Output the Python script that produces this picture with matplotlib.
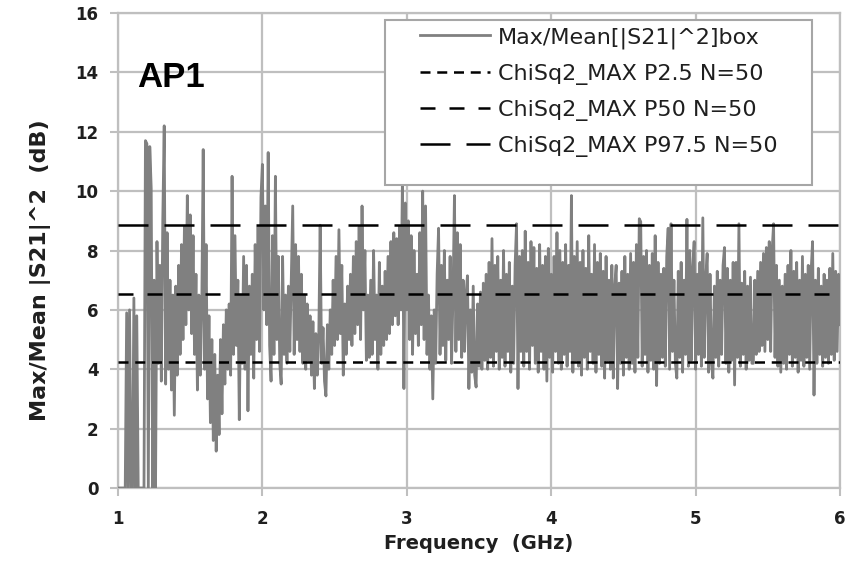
import numpy as np
import matplotlib
matplotlib.use('Agg')
import matplotlib.pyplot as plt
from matplotlib.patches import Rectangle

# Max/Mean of |S21|^2 over the frequency box, in dB (0.01 GHz steps from 1 to 6 GHz)
ratio_db = [
    0, 0, 0, 0, 0, 0, 5.9, 0, 6.0, 0, 0, 6.4, 0, 5.8, 0, 0, 0, 0, 0, 11.7,
    11.6, 0, 11.5, 10.1, 0, 7.0, 0, 8.3, 4.2, 7.5, 3.6, 9.0, 12.2, 3.5, 8.6, 4.0, 7.0, 3.3, 6.5, 2.45,
    6.8, 3.8, 7.5, 4.5, 8.2, 5.0, 8.8, 5.5, 9.85, 6.0, 9.2, 5.2, 8.5, 4.5, 7.2, 3.3, 6.5, 3.8, 6.0, 11.4,
    4.0, 8.2, 3.0, 5.8, 2.2, 5.0, 1.6, 4.5, 1.24, 3.8, 1.8, 5.0, 2.5, 5.5, 3.5, 6.0, 4.0, 6.2, 3.8, 10.5,
    4.5, 8.5, 4.8, 7.0, 2.3, 6.5, 4.2, 7.8, 4.0, 7.5, 2.6, 6.8, 4.5, 7.2, 3.7, 8.2, 5.0, 8.8, 4.6, 9.8,
    10.9, 6.0, 9.5, 5.5, 11.3, 4.8, 3.6, 8.5, 4.5, 10.5, 5.0, 7.8, 4.2, 3.5, 7.8, 4.5, 6.5, 4.2, 6.8, 4.6,
    7.0, 9.5, 4.5, 8.2, 5.0, 7.8, 4.6, 7.2, 4.2, 6.5, 4.0, 6.2, 4.3, 5.8, 3.8, 5.6, 3.35, 5.2, 3.8, 5.0,
    8.85, 4.2, 5.4, 3.6, 3.1, 5.5, 4.0, 6.0, 4.5, 7.0, 4.8, 7.8, 5.0, 8.7, 5.2, 7.5, 3.8, 6.2, 4.5, 6.8,
    5.0, 7.2, 4.8, 7.8, 5.2, 8.3, 5.5, 8.8, 5.0, 9.5, 6.0, 8.0, 4.3, 6.5, 4.4, 7.0, 4.5, 8.0, 5.0, 6.5,
    4.0, 7.6, 4.5, 6.8, 4.8, 7.3, 5.0, 7.8, 5.2, 8.3, 5.5, 8.6, 5.8, 8.4, 5.5, 8.8, 6.0, 10.5, 3.35, 9.6,
    6.0, 9.0, 5.0, 8.5, 4.5, 8.0, 5.2, 7.2, 4.8, 8.6, 5.5, 10.0, 5.0, 9.5, 4.5, 6.5, 4.0, 5.8, 3.0, 6.0,
    4.2, 7.2, 8.75, 4.5, 7.5, 4.8, 8.0, 4.3, 7.0, 5.0, 7.8, 4.2, 6.5, 9.85, 4.6, 8.6, 5.0, 8.2, 4.4, 7.0,
    4.6, 6.5, 7.15, 3.35, 6.0, 3.9, 6.8, 3.8, 3.4, 6.2, 4.1, 6.6, 4.0, 6.9, 4.3, 7.2, 4.0, 7.6, 4.4, 8.4,
    4.1, 7.5, 4.6, 7.8, 4.0, 7.0, 4.4, 8.0, 4.1, 7.2, 4.6, 7.6, 3.9, 6.8, 4.2, 7.5, 8.9, 3.35, 7.8, 4.6,
    8.0, 4.1, 8.65, 4.6, 7.6, 4.0, 8.3, 4.8, 8.1, 4.2, 7.4, 3.9, 8.2, 4.6, 7.5, 4.0, 7.8, 3.6, 8.07, 4.4,
    7.2, 3.9, 7.8, 4.6, 8.6, 4.2, 8.0, 4.0, 7.6, 4.5, 8.2, 4.1, 7.5, 4.6, 9.85, 3.9, 7.8, 4.3, 8.3, 4.1,
    7.6, 3.8, 8.0, 4.4, 7.4, 4.0, 8.5, 4.6, 7.2, 4.2, 8.2, 3.9, 7.6, 4.5, 7.9, 4.1, 7.3, 3.7, 7.8, 4.3,
    7.0, 4.0, 7.5, 3.7, 6.8, 7.5, 3.35, 6.9, 4.2, 7.3, 3.8, 7.8, 4.4, 7.2, 4.0, 7.9, 4.2, 7.6, 3.9, 8.2,
    4.4, 9.07, 8.97, 4.1, 7.8, 4.5, 8.0, 3.9, 7.5, 4.3, 7.9, 4.0, 8.5, 3.45, 7.6, 4.2, 7.2, 4.4, 7.4, 4.1,
    7.8, 8.75, 4.0, 8.9, 4.6, 7.0, 4.2, 3.7, 7.3, 4.4, 7.6, 3.9, 7.0, 4.5, 9.05, 4.1, 8.0, 4.3, 7.4, 8.3,
    4.0, 7.2, 4.5, 7.6, 4.1, 9.1, 4.4, 7.0, 7.9, 3.9, 7.2, 4.2, 3.7, 6.8, 4.4, 7.3, 4.1, 7.0, 4.5, 7.5,
    8.1, 4.2, 7.4, 3.9, 7.0, 4.3, 7.6, 3.47, 7.6, 4.4, 8.9, 4.1, 6.9, 4.5, 7.3, 4.0, 6.8, 4.3, 7.1, 4.2,
    4.2, 7.0, 4.5, 7.3, 4.6, 7.6, 4.8, 7.9, 4.6, 8.1, 5.0, 8.3, 4.6, 8.0, 8.9, 4.4, 7.5, 4.1, 7.0, 3.9,
    6.8, 4.2, 7.2, 4.0, 7.5, 4.5, 8.0, 4.1, 7.3, 4.4, 7.6, 3.9, 7.0, 4.3, 7.8, 4.1, 7.2, 4.4, 7.5, 4.0,
    7.3, 8.3, 3.13, 7.0, 4.2, 7.4, 4.5, 6.8, 4.1, 7.2, 4.4, 7.0, 4.2, 7.4, 4.5, 7.9, 4.3, 7.3, 4.6, 7.2,
    5.5,
]
freq_ghz = np.linspace(1.0, 6.0, len(ratio_db))

# chi-square (2 dof) max statistic percentiles for N=50
p2_5_db = 4.25
p50_db = 6.55
p97_5_db = 8.87

labels = ['Max/Mean[|S21|^2]box',
          'ChiSq2_MAX P2.5 N=50',
          'ChiSq2_MAX P50 N=50',
          'ChiSq2_MAX P97.5 N=50']

GRID = '#bfbfbf'
TXT = '#1f1f1f'

fig = plt.figure(figsize=(8.49, 5.66), dpi=100)
ax = fig.add_axes([118 / 849, 1 - 488 / 566, (840 - 118) / 849, (488 - 13) / 566])

ax.plot(freq_ghz, ratio_db, color='#808080', lw=2.0, zorder=3, label=labels[0])
lw = 1.8
ax.axhline(p2_5_db, color='black', lw=lw, dashes=(4.0, 2.7), zorder=4, label=labels[1])
ax.axhline(p50_db, color='black', lw=lw, dashes=(6.0, 5.6), zorder=4, label=labels[2])
ax.axhline(p97_5_db, color='black', lw=lw, dashes=(12.0, 6.4), zorder=4, label=labels[3])

ax.set_xlim(1, 6)
ax.set_ylim(0, 16)
ax.set_xticks(np.arange(1, 7, 1))
ax.set_yticks(np.arange(0, 17, 2))
ax.grid(True, color=GRID, lw=1.6, zorder=0)
ax.set_axisbelow(True)
for s in ax.spines.values():
    s.set_color(GRID)
    s.set_linewidth(1.6)

ax.tick_params(axis='both', direction='out', length=6, width=1.5, color=GRID,
               labelsize=12, labelcolor=TXT)
ax.tick_params(axis='x', pad=10)
ax.tick_params(axis='y', pad=8)
for lab in ax.get_xticklabels() + ax.get_yticklabels():
    lab.set_fontweight('bold')

ax.set_xlabel('Frequency  (GHz)', fontsize=14, fontweight='bold', color=TXT)
ax.xaxis.set_label_coords(0.5, -0.116)
ax.xaxis.label.set_va('center')
ax.set_ylabel('Max/Mean |S21|^2  (dB)', fontsize=16, fontweight='bold', color=TXT)
ax.yaxis.set_label_coords(-0.108, 0.459)
ax.yaxis.label.set_va('center')

ax.text(0.026, 0.844, 'AP1', transform=ax.transAxes, fontsize=25,
        fontweight='bold', family='Liberation Sans', color='black', va='baseline')

# legend box drawn separately so the side padding can be wider than the top padding
ax.add_patch(Rectangle((0.370, 0.638), 0.591, 0.347, transform=ax.transAxes,
                       facecolor='white', edgecolor='#a6a6a6', lw=1.5, zorder=5))
leg = ax.legend(loc='upper left', bbox_to_anchor=(0.418, 0.9705), frameon=False,
                fontsize=16, handlelength=3.15, handletextpad=0.36,
                labelspacing=0.68, borderpad=0, borderaxespad=0)
leg.set_zorder(6)
for t in leg.get_texts():
    t.set_color(TXT)

fig.savefig('out.png', dpi=100, facecolor='white')
